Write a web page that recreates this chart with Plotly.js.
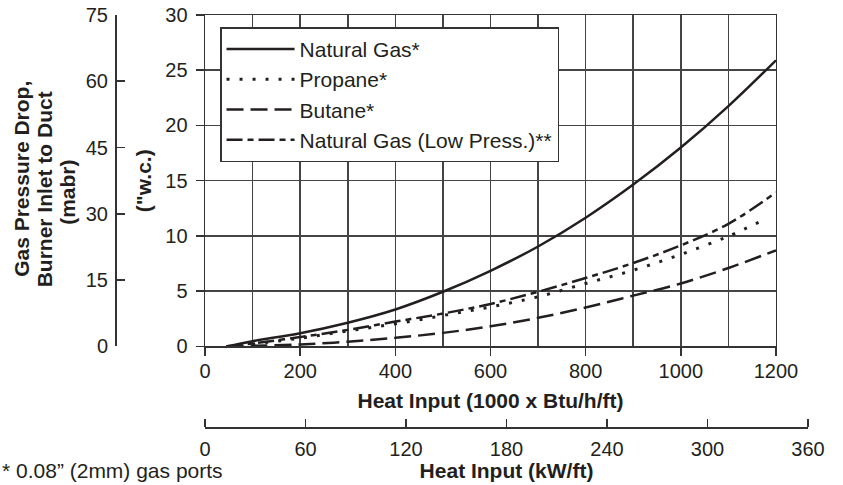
<!DOCTYPE html>
<html>
<head>
<meta charset="utf-8">
<script src="https://cdn.plot.ly/plotly-3.0.1.min.js"></script>
<style>
  html, body { margin: 0; padding: 0; background: #fff; }
  #chart { width: 843px; height: 485px; }
</style>
</head>
<body>
<div id="chart"></div>
<script>
// ---- data ----
const heatInput = [45, 100, 200, 300, 400, 500, 600, 700, 800, 900, 1000, 1100, 1200];
const naturalGas = [0, 0.48, 1.2, 2.15, 3.35, 4.95, 6.85, 9.05, 11.65, 14.65, 18.0, 21.75, 25.9];
const propaneInput = [45, 100, 200, 300, 400, 500, 600, 700, 800, 900, 1000, 1100, 1176];
const propane = [0, 0.22, 0.75, 1.4, 2.05, 2.8, 3.58, 4.5, 5.7, 6.9, 8.33, 9.98, 11.5];
const butane = [0, 0.05, 0.18, 0.43, 0.78, 1.23, 1.82, 2.59, 3.53, 4.6, 5.7, 7.1, 8.7];
const naturalGasLowPress = [0, 0.27, 0.85, 1.5, 2.25, 2.98, 3.85, 4.95, 6.2, 7.55, 9.15, 11.1, 13.95];

const seriesNames = ["Natural Gas*", "Propane*", "Butane*", "Natural Gas (Low Press.)**"];
const xTickVals = [0, 200, 400, 600, 800, 1000, 1200];
const kwTickVals = [0, 60, 120, 180, 240, 300, 360];
const mabrTickVals = [0, 15, 30, 45, 60, 75];

// ---- styling ----
const ink = '#231f20';
const gridCol = '#444444';
const fontFam = '"Liberation Sans", Arial, Helvetica, sans-serif';

// pixel geometry helpers (paper spans 115..807.7 px horizontally, 15..427.3 px vertically)
const PL = 115, PR = 807.7, PT = 15, PB = 427.3;
const px = v => (v - PL) / (PR - PL);
const py = v => (PB - v) / (PB - PT);

const lineW = 2.5;
const traces = [
  { x: heatInput, y: naturalGas, name: seriesNames[0], mode: 'lines',
    line: { color: ink, width: lineW, dash: 'solid', shape: 'spline', smoothing: 1 } },
  { x: propaneInput, y: propane, name: seriesNames[1], mode: 'lines',
    line: { color: ink, width: 3, dash: '3px,10px', shape: 'spline', smoothing: 1 } },
  { x: heatInput, y: butane, name: seriesNames[2], mode: 'lines',
    line: { color: ink, width: lineW, dash: '17px,7px', shape: 'spline', smoothing: 1 } },
  { x: heatInput, y: naturalGasLowPress, name: seriesNames[3], mode: 'lines',
    line: { color: ink, width: lineW, dash: '16px,5px,6px,5px', shape: 'spline', smoothing: 1 } },
  // empty helper traces so the secondary (mabr and kW/ft) axes are drawn
  { x: [0], y: [null], xaxis: 'x', yaxis: 'y2', mode: 'lines', showlegend: false, hoverinfo: 'skip' },
  { x: [null], y: [null], xaxis: 'x2', yaxis: 'y3', mode: 'lines', showlegend: false, hoverinfo: 'skip' },
  { x: [null], y: [null], xaxis: 'x4', yaxis: 'y3', mode: 'lines', showlegend: false, hoverinfo: 'skip' }
];

const tickFont = { family: fontFam, size: 20, color: ink };
const titleFont = { family: fontFam, size: 21, color: ink, weight: 'bold' };

const layout = {
  width: 843, height: 485,
  margin: { l: PL, r: 843 - PR, t: PT, b: 485 - PB, pad: 0 },
  paper_bgcolor: '#ffffff', plot_bgcolor: 'rgba(0,0,0,0)',
  font: { family: fontFam, color: ink },
  showlegend: true,
  legend: {
    x: px(220), y: py(27.3), xanchor: 'left', yanchor: 'top',
    bgcolor: '#ffffff', bordercolor: '#333333', borderwidth: 1.5,
    font: { family: fontFam, size: 21, color: ink },
    itemwidth: 68, tracegroupgap: 0
  },
  xaxis: {
    domain: [px(205), px(775.7)], range: [0, 1200],
    tickvals: xTickVals, ticks: 'outside', ticklen: 8, tickwidth: 1.5, tickcolor: '#333',
    showline: true, linecolor: '#333', linewidth: 1.5, mirror: true,
    showgrid: true, gridcolor: gridCol, gridwidth: 1.5, zeroline: false,
    minor: { dtick: 100, tick0: 0, showgrid: true, gridcolor: gridCol, gridwidth: 1.5, ticks: '' },
    tickfont: tickFont, ticklabelstandoff: -2,
    title: { text: 'Heat Input (1000 x Btu/h/ft)', font: titleFont, standoff: 12 }
  },
  yaxis: {
    domain: [py(346.7), 1], range: [0, 30], dtick: 5, tick0: 0,
    ticks: 'outside', ticklen: 8, tickwidth: 1.5, tickcolor: '#333',
    showline: true, linecolor: '#333', linewidth: 1.5, mirror: true,
    showgrid: true, gridcolor: gridCol, gridwidth: 1.5, zeroline: false,
    tickfont: tickFont, ticklabelstandoff: 4,
    title: { text: '("w.c.)', font: titleFont, standoff: 8 }
  },
  yaxis2: {
    overlaying: 'y', anchor: 'free', position: 0, side: 'left',
    range: [0, 75], tickvals: mabrTickVals,
    ticks: 'inside', ticklen: 8, tickwidth: 1.8, tickcolor: '#333',
    showline: true, linecolor: '#333', linewidth: 1.5,
    showgrid: false, zeroline: false,
    tickfont: tickFont, ticklabelstandoff: 3
  },
  // kW/ft axis: line, labels and title
  xaxis2: {
    domain: [px(205), 1], range: [0, 360], anchor: 'free', position: 0, side: 'bottom',
    tickvals: kwTickVals, ticks: '',
    showline: true, linecolor: '#333', linewidth: 1.5,
    showgrid: false, zeroline: false,
    tickfont: tickFont, ticklabelstandoff: 3,
    title: { text: 'Heat Input (kW/ft)', font: titleFont, standoff: 5 }
  },
  // kW/ft axis: upward tick marks
  xaxis4: {
    overlaying: 'x2', range: [0, 360], anchor: 'free', position: 0, side: 'top',
    tickvals: kwTickVals, ticks: 'outside', ticklen: 8, tickwidth: 1.8, tickcolor: '#333',
    showticklabels: false, showline: false, showgrid: false, zeroline: false
  },
  yaxis3: {
    domain: [0, 0.02], anchor: 'x2', range: [0, 1],
    showline: false, showgrid: false, zeroline: false, showticklabels: false, ticks: ''
  },
  annotations: [
    { text: 'Gas Pressure Drop,', xref: 'paper', yref: 'paper', x: px(21.5), y: py(178.5),
      textangle: -90, showarrow: false, font: titleFont, xanchor: 'center', yanchor: 'middle' },
    { text: 'Burner Inlet to Duct', xref: 'paper', yref: 'paper', x: px(44.5), y: py(189),
      textangle: -90, showarrow: false, font: titleFont, xanchor: 'center', yanchor: 'middle' },
    { text: '(mabr)', xref: 'paper', yref: 'paper', x: px(67.5), y: py(192.5),
      textangle: -90, showarrow: false, font: titleFont, xanchor: 'center', yanchor: 'middle' },
    { text: '* 0.08” (2mm) gas ports', xref: 'paper', yref: 'paper', x: px(0), y: py(484),
      showarrow: false, font: { family: fontFam, size: 21, color: ink }, xanchor: 'left', yanchor: 'bottom' }
  ]
};

Plotly.newPlot('chart', traces, layout, { staticPlot: true, displayModeBar: false });
</script>
</body>
</html>
